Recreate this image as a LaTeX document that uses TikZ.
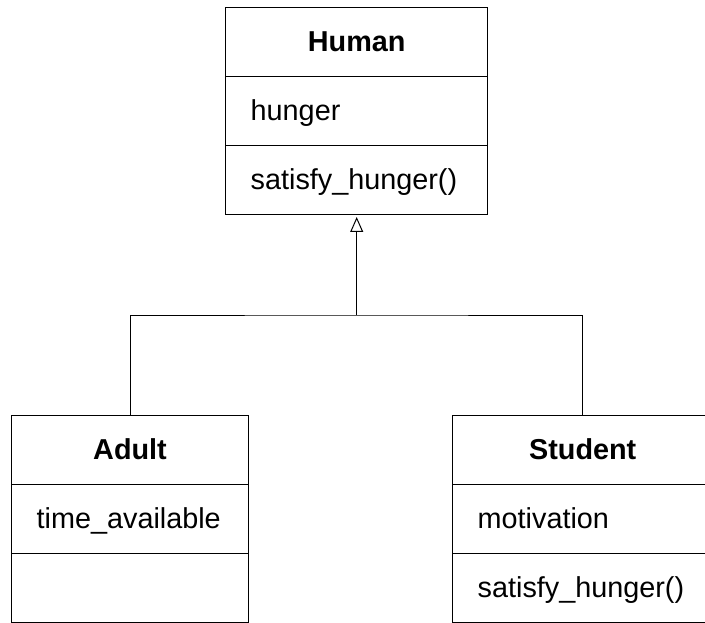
\documentclass[tikz,border=0pt]{standalone}
\usepackage{fontspec}
\setmainfont{Liberation Sans}
\usetikzlibrary{positioning,arrows.meta}

\begin{document}
\begin{tikzpicture}[x=1pt, y=-1pt,
        cell/.style={draw, line width=1pt, outer sep=0pt, minimum height=69pt, inner xsep=25pt, inner ysep=0pt,
            text height=22pt, text depth=3pt, align=left, font=\fontsize{28.8}{34}\selectfont},
        head/.style={cell, align=center, font=\fontsize{28.8}{34}\selectfont\bfseries},
        link/.style={line width=1pt}]
        \useasboundingbox (0,0) rectangle (705,623);
        % superclass
        \node[head, text width=212pt, anchor=north west] (human) at (225.7,8) {Human};
        \node[cell, text width=212pt, below=0pt of human] (human attr) {hunger};
        \node[cell, text width=212pt, below=0pt of human attr] (human ops) {satisfy\_hunger()};
        % subclasses
        \node[head, text width=186.6pt, anchor=north west] (adult) at (11.7,415) {Adult};
        \node[cell, text width=186.6pt, below=0pt of adult] (adult attr) {time\_available};
        \node[cell, text width=186.6pt, below=0pt of adult attr] (adult ops) {};
        \node[head, text width=210pt, anchor=north west] (student) at (452.7,415) {Student};
        \node[cell, text width=210pt, below=0pt of student] (student attr) {motivation};
        \node[cell, text width=210pt, below=0pt of student attr] (student ops) {satisfy\_hunger()};
        % generalisation
        \coordinate (bus) at (0,315);
        \coordinate (fork) at (human ops.south |- bus);
        \draw[link] (adult.north) |- (fork) -| (student.north);
        \draw[link, -{Triangle[open, length=15pt, width=13pt]}, shorten >=2pt] (fork) -- (human ops.south);
    \end{tikzpicture}
\end{document}
